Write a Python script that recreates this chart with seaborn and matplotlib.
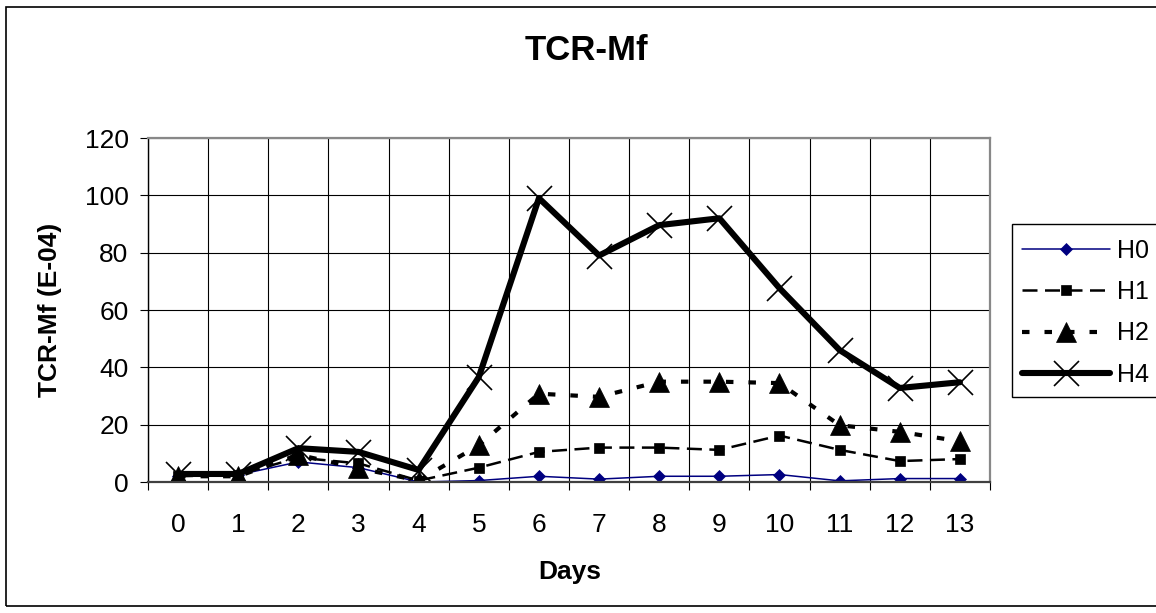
import matplotlib
matplotlib.use("Agg")
import matplotlib.pyplot as plt
import seaborn as sns
import pandas as pd
from matplotlib.patches import Rectangle
from matplotlib.ticker import FixedLocator

days = list(range(14))
day_labels = [str(d) for d in days]
h0 = [2.0, 2.5, 7.0, 5.0, 0.0, 0.5, 2.0, 1.0, 2.0, 2.0, 2.6, 0.4, 1.2, 1.2]
h1 = [2.0, 2.5, 8.5, 6.5, 0.5, 5.0, 10.5, 12.0, 12.0, 11.2, 16.2, 11.2, 7.3, 8.0]
h2 = [2.0, 2.0, 9.5, 4.8, 0.5, 12.8, 30.8, 29.7, 35.0, 35.0, 34.5, 19.8, 17.5, 14.2]
h4 = [2.8, 2.8, 11.8, 10.5, 4.2, 36.6, 99.0, 79.0, 89.6, 92.0, 67.6, 46.0, 32.8, 34.8]
series_names = ["H0", "H1", "H2", "H4"]
yticks = [0, 20, 40, 60, 80, 100, 120]

df = pd.DataFrame({"Days": days, "H0": h0, "H1": h1, "H2": h2, "H4": h4})

sns.set_theme(style="white")
plt.rcParams["font.family"] = ["Liberation Sans", "DejaVu Sans"]
plt.rcParams["text.color"] = "black"
plt.rcParams["axes.labelcolor"] = "black"
plt.rcParams["xtick.color"] = "black"
plt.rcParams["ytick.color"] = "black"

W, H = 1156, 613
fig = plt.figure(figsize=(W / 100, H / 100), dpi=100)
fig.patch.set_facecolor("white")

# outer chart border
fig.patches.append(Rectangle((6 / W, 1 - 606 / H), (1170 - 6) / W, (606 - 7) / H,
                             transform=fig.transFigure, fill=False,
                             edgecolor="black", linewidth=1.2, zorder=0))

ax = fig.add_axes([148 / W, 1 - 482 / H, (990 - 148) / W, (482 - 138) / H])

styles = {
    "H0": dict(color="#000080", linewidth=1.1, linestyle="-", marker="D",
               markersize=6.5, markeredgewidth=0.5, markerfacecolor="#000080",
               markeredgecolor="#000080"),
    "H1": dict(color="black", linewidth=1.8, linestyle=(0, (6, 3)), marker="s",
               markersize=7.5, markeredgewidth=0.5, markerfacecolor="black",
               markeredgecolor="black"),
    "H2": dict(color="black", linewidth=3.0, linestyle=(0, (1.8, 3.6)), marker="^",
               markersize=15, markeredgewidth=0.5, markerfacecolor="black",
               markeredgecolor="black"),
    "H4": dict(color="black", linewidth=4.4, linestyle="-", marker="x",
               markersize=18, markeredgewidth=1.2, markeredgecolor="black"),
}

for name in series_names:
    sns.lineplot(data=df, x="Days", y=name, ax=ax, label=name, **styles[name])

ax.set_xlim(-0.5, 13.5)
ax.set_ylim(0, 120)
ax.set_xticks(days)
ax.set_xticklabels(day_labels)
ax.xaxis.set_minor_locator(FixedLocator([d - 0.5 for d in days] + [13.5]))
ax.set_yticks(yticks)
ax.set_yticklabels([str(v) for v in yticks])

ax.grid(False)
ax.grid(axis="y", which="major", color="black", linewidth=0.8)
ax.grid(axis="x", which="minor", color="black", linewidth=0.8)

ax.tick_params(axis="x", which="major", length=0, pad=22, labelsize=19, colors="black")
ax.tick_params(axis="x", which="minor", length=6, width=0.8, direction="out",
               colors="black", bottom=True)
ax.tick_params(axis="y", which="major", length=6, width=0.8, direction="out",
               pad=8, labelsize=19, colors="black", left=True)

for side in ["left", "bottom"]:
    ax.spines[side].set_color("black")
    ax.spines[side].set_linewidth(1.0)
ax.spines["bottom"].set_linewidth(1.6)
ax.spines["bottom"].set_color("#404040")
for side in ["top", "right"]:
    ax.spines[side].set_color("#888888")
    ax.spines[side].set_linewidth(1.6)

ax.set_xlabel("")
ax.set_ylabel("")

fig.text(586 / W, 1 - 50 / H, "TCR-Mf", ha="center", va="center",
         fontsize=25, fontweight="bold", color="black")
fig.text(570 / W, 1 - 572 / H, "Days", ha="center", va="center",
         fontsize=19, fontweight="bold", color="black")
fig.text(50 / W, 1 - 310 / H, "TCR-Mf (E-04)", ha="center", va="center",
         rotation=90, fontsize=19, fontweight="bold", color="black")

if ax.get_legend():
    ax.get_legend().remove()
handles, labels = ax.get_legend_handles_labels()
leg = fig.legend(handles, labels, loc="lower left",
                 bbox_to_anchor=(1012 / W, 1 - 397 / H),
                 bbox_transform=fig.transFigure, borderaxespad=0,
                 fontsize=18, frameon=False,
                 handlelength=3.5, handletextpad=0.3, labelspacing=0.7,
                 borderpad=0.4)
for t in leg.get_texts():
    t.set_color("black")

# legend frame (extends past the right edge as in the reference)
fig.patches.append(Rectangle((1012 / W, 1 - 397 / H), (1175 - 1012) / W, (397 - 224) / H,
                             transform=fig.transFigure, fill=True, facecolor="white",
                             edgecolor="black", linewidth=1.0, zorder=1))

fig.savefig("out.png", dpi=100, facecolor="white")
